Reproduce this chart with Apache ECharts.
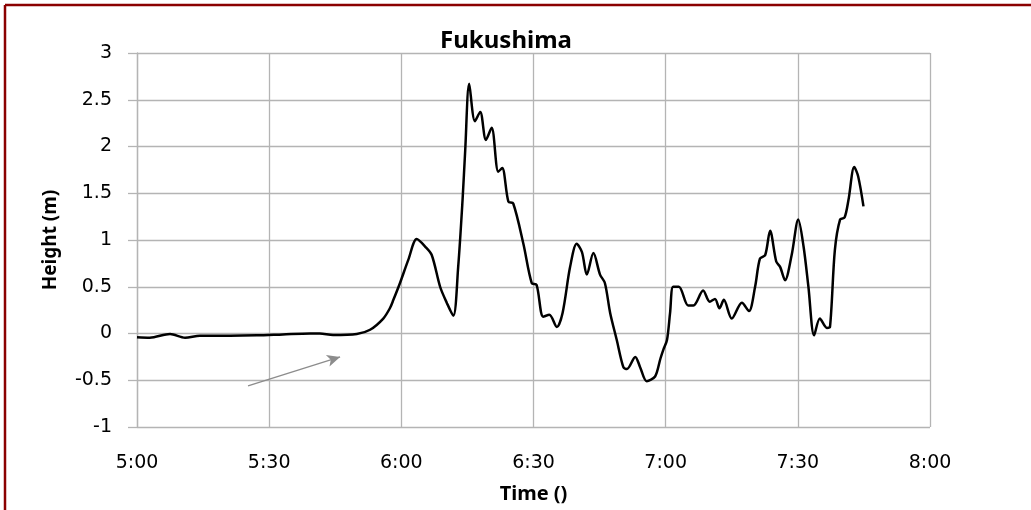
<!DOCTYPE html>
<html><head><meta charset="utf-8">
<script src="https://cdn.jsdelivr.net/npm/echarts@6/dist/echarts.min.js"></script>
<style>html,body{margin:0;padding:0;background:#fff}#c{width:1031px;height:510px}</style>
</head><body><div id="c"></div>
<script>
// minutes after 5:00
const times = [0,2.9,7.5,10.9,14.3,21.1,27.2,33.1,39.3,41.5,44.5,49.9,52.9,55.9,57.4,58.2,59.7,61.6,63.5,65.4,66.9,68.8,70.3,71.8,72.9,73.9,74.5,75.4,76.7,77.9,79.2,80.5,82.0,82.9,84.3,85.4,87.7,89.6,90.7,92.2,93.6,95.3,96.6,98.3,99.8,101.0,102.1,103.6,105.1,106.2,107.4,108.9,110.4,111.2,113.1,114.2,115.7,117.6,118.8,119.5,120.3,121.0,121.7,123.0,125.1,126.3,128.5,130.0,131.2,132.2,133.2,135.0,137.3,138.9,140.3,141.4,142.6,143.7,145.1,146.0,147.1,148.6,150.1,151.3,152.4,153.7,155.0,156.6,157.3,158.4,159.6,160.6,161.5,162.8,163.7,164.9];
const heights = [-0.04,-0.045,-0.005,-0.045,-0.024,-0.024,-0.02,-0.01,0.0,0.0,-0.016,-0.005,0.04,0.16,0.27,0.36,0.54,0.79,1.01,0.93,0.84,0.50,0.33,0.19,0.71,1.43,1.96,2.67,2.27,2.37,2.07,2.20,1.73,1.77,1.41,1.39,0.96,0.54,0.52,0.18,0.20,0.07,0.22,0.71,0.96,0.87,0.63,0.86,0.63,0.54,0.22,-0.07,-0.36,-0.38,-0.25,-0.36,-0.51,-0.46,-0.27,-0.17,-0.07,0.22,0.50,0.50,0.30,0.30,0.46,0.34,0.37,0.27,0.36,0.16,0.33,0.24,0.50,0.80,0.84,1.10,0.77,0.71,0.57,0.84,1.22,0.93,0.50,-0.02,0.16,0.06,0.07,0.89,1.22,1.24,1.43,1.78,1.68,1.36];
const xTickLabels = ['5:00','5:30','6:00','6:30','7:00','7:30','8:00'];
const yTicks = [-1,-0.5,0,0.5,1,1.5,2,2.5,3];
const arrowStart = [25.2,-0.56];
const arrowEnd = [46.1,-0.25];

const chart = echarts.init(document.getElementById('c'));
const font = 'DejaVu Sans';
const bold = 'Noto Sans';
chart.setOption({
  animation:false,
  backgroundColor:'#fff',
  title:{text:'Fukushima',left:501,textAlign:'center',top:24,textStyle:{fontFamily:bold,fontSize:24,fontWeight:'bold',color:'#000'}},
  grid:{left:137,right:101,top:53,bottom:83},
  xAxis:{type:'value',min:0,max:180,interval:30,
    name:'Time ()',nameLocation:'middle',nameGap:57,
    nameTextStyle:{fontFamily:bold,fontSize:20,fontWeight:'bold',color:'#000'},
    axisLine:{show:false},axisTick:{show:false},
    axisLabel:{margin:27,fontFamily:font,fontSize:19,color:'#000',formatter:v=>xTickLabels[Math.round(v/30)]},
    splitLine:{show:true,lineStyle:{color:'#b4b4b4',width:1.3}}},
  yAxis:{type:'value',min:yTicks[0],max:yTicks[yTicks.length-1],interval:0.5,
    name:'Height (m)',nameLocation:'middle',nameGap:77,nameRotate:90,
    nameTextStyle:{fontFamily:bold,fontSize:19,fontWeight:'bold',color:'#000'},
    axisLine:{show:true,lineStyle:{color:'#b4b4b4',width:1.3}},
    axisTick:{show:true,length:9,lineStyle:{color:'#b4b4b4',width:1.3}},
    axisLabel:{margin:25,fontFamily:font,fontSize:19,color:'#000'},
    splitLine:{show:true,lineStyle:{color:'#b4b4b4',width:1.3}}},
  series:[{type:'line',data:times.map((t,i)=>[t,heights[i]]),showSymbol:false,smooth:0.3,
    lineStyle:{color:'#000',width:2.5},
    markLine:{silent:true,symbol:['none','arrow'],symbolSize:[9,13],label:{show:false},
      lineStyle:{color:'#8c8c8c',width:1.3,type:'solid'},
      data:[[{coord:arrowStart},{coord:arrowEnd}]]}}],
  graphic:[
    {type:'line',shape:{x1:5,y1:5,x2:1031,y2:5},style:{stroke:'#8b0000',lineWidth:2.5}},
    {type:'line',shape:{x1:5,y1:5,x2:5,y2:510},style:{stroke:'#8b0000',lineWidth:2.5}}
  ]
});
</script></body></html>
